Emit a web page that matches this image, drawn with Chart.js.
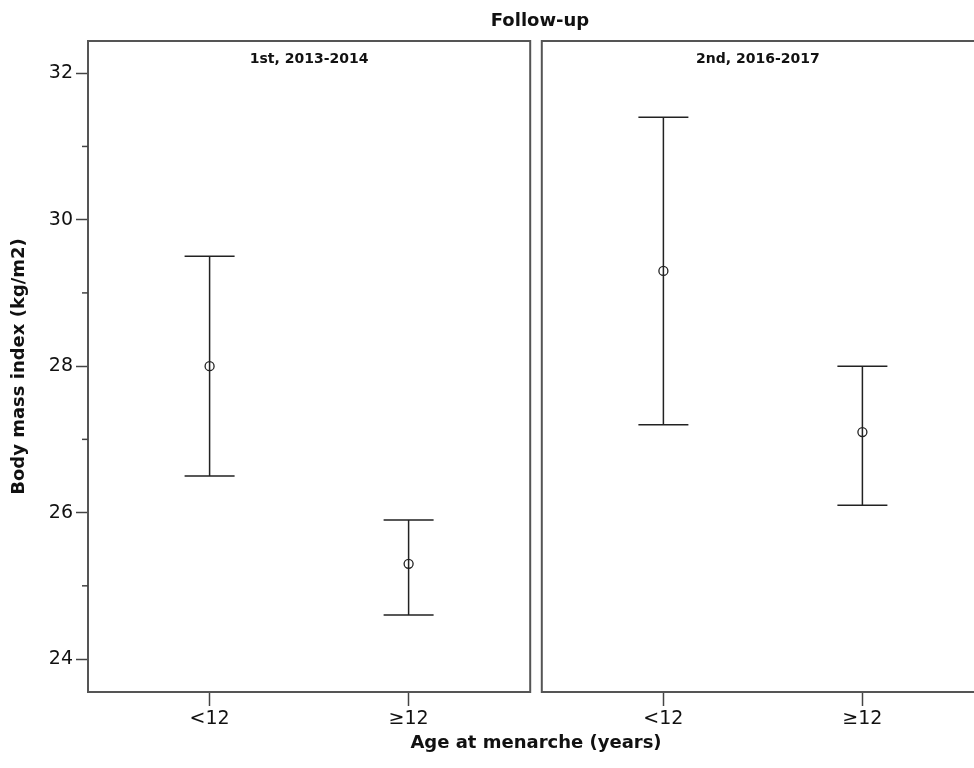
<!DOCTYPE html>
<html>
<head>
    <meta charset="utf-8" />
    <title>Body mass index by age at menarche</title>
    <style>
        html, body { margin: 0; padding: 0; width: 974px; height: 768px; overflow: hidden; background: #fff; }
        .wrap { position: absolute; top: 0; height: 768px; }
        .lbl { position: absolute; font-family: "DejaVu Sans", sans-serif; font-weight: bold; font-size: 18px; color: #111; white-space: nowrap; transform: translateX(-50%); }
    </style>
</head>
<body>
    <div class="wrap" style="left:0;width:536px"><canvas id="left"></canvas></div>
    <div class="wrap" style="left:536px;width:460px"><canvas id="right"></canvas></div>
    <div class="lbl" style="left:540px;top:9px">Follow-up</div>
    <div class="lbl" style="left:536px;top:731px">Age at menarche (years)</div>
    <script src="https://cdn.jsdelivr.net/npm/chart.js@4.4.1/dist/chart.umd.min.js"></script>
    <script>
        // categories and panel names
        var categories = ['<12', '\u226512'];
        var panelTitles = ['1st, 2013-2014', '2nd, 2016-2017'];
        var yTicks = [24, 26, 28, 30, 32];
        var yMinorTicks = [25, 27, 29, 31];

        // means and 95% CI, first follow-up
        var mean1 = [28.0, 25.3];
        var lower1 = [26.5, 24.6];
        var upper1 = [29.5, 25.9];

        // second follow-up
        var mean2 = [29.3, 27.1];
        var lower2 = [27.2, 26.1];
        var upper2 = [31.4, 28.0];

        var ink = '#222';
        var font = '"DejaVu Sans", sans-serif';

        // error bars + panel frame + panel title
        var panelPlugin = {
            id: 'panel',
            beforeDatasetsDraw: function (chart, args, opts) {
                var c = chart.ctx, xs = chart.scales.x, ys = chart.scales.y;
                c.save();
                c.strokeStyle = ink;
                c.lineWidth = 1.5;
                for (var i = 0; i < opts.lower.length; i++) {
                    var x = xs.getPixelForValue(i);
                    var yl = ys.getPixelForValue(opts.lower[i]);
                    var yu = ys.getPixelForValue(opts.upper[i]);
                    c.beginPath();
                    c.moveTo(x, yl); c.lineTo(x, yu);
                    c.moveTo(x - 25, yl); c.lineTo(x + 25, yl);
                    c.moveTo(x - 25, yu); c.lineTo(x + 25, yu);
                    c.stroke();
                }
                c.restore();
            },
            afterDraw: function (chart, args, opts) {
                var c = chart.ctx, a = chart.chartArea, ys = chart.scales.y;
                c.save();
                c.strokeStyle = '#555';
                c.lineWidth = 2;
                c.strokeRect(a.left, a.top, a.right - a.left, a.bottom - a.top);
                if (opts.minor) {
                    c.strokeStyle = '#444';
                    c.lineWidth = 1.5;
                    yMinorTicks.forEach(function (v) {
                        var y = ys.getPixelForValue(v);
                        c.beginPath();
                        c.moveTo(a.left - 6, y); c.lineTo(a.left, y);
                        c.stroke();
                    });
                }
                c.fillStyle = '#111';
                c.font = 'bold 14px ' + font;
                c.textAlign = 'center';
                c.textBaseline = 'middle';
                var right = Math.min(a.right, opts.visibleRight);
                c.fillText(opts.title, (a.left + right) / 2, 59);
                c.restore();
            }
        };

        function makeChart(id, mean, lower, upper, title, showY, padding, visibleRight) {
            var points = mean.map(function (m, i) { return { x: i, y: m }; });
            return new Chart(document.getElementById(id), {
                type: 'scatter',
                data: {
                    datasets: [{
                        data: points,
                        pointRadius: 4.5,
                        pointBorderWidth: 1.3,
                        pointBorderColor: ink,
                        pointBackgroundColor: 'rgba(0,0,0,0)'
                    }]
                },
                options: {
                    responsive: true,
                    maintainAspectRatio: false,
                    animation: false,
                    layout: { padding: padding },
                    plugins: {
                        legend: { display: false },
                        tooltip: { enabled: false },
                        panel: { lower: lower, upper: upper, title: title, minor: showY, visibleRight: visibleRight }
                    },
                    scales: {
                        x: {
                            type: 'linear',
                            min: -0.611,
                            max: 1.611,
                            afterBuildTicks: function (s) { s.ticks = categories.map(function (c, i) { return { value: i }; }); },
                            afterFit: function (s) { s.height = 76; },
                            border: { display: false },
                            grid: { drawOnChartArea: false, tickLength: 14, tickWidth: 1.5, tickColor: '#444' },
                            ticks: {
                                color: '#111',
                                font: { family: font, size: 19 },
                                padding: 2,
                                maxRotation: 0,
                                callback: function (v) { return categories[v]; }
                            }
                        },
                        y: {
                            display: showY,
                            min: 23.55,
                            max: 32.44,
                            afterBuildTicks: function (s) { s.ticks = yTicks.map(function (v) { return { value: v }; }); },
                            afterFit: function (s) { s.width = showY ? 88 : 0; },
                            border: { display: false },
                            grid: { drawOnChartArea: false, tickLength: 12, tickWidth: 1.5, tickColor: '#444' },
                            ticks: { color: '#111', font: { family: font, size: 19 }, padding: 3 },
                            title: {
                                display: true,
                                text: 'Body mass index (kg/m2)',
                                color: '#111',
                                font: { family: font, size: 18, weight: 'bold' },
                                padding: { top: 9, bottom: 0 }
                            }
                        }
                    }
                },
                plugins: [panelPlugin]
            });
        }

        makeChart('left', mean1, lower1, upper1, panelTitles[0], true, { top: 41, right: 5, left: 0, bottom: 0 }, 9999);
        makeChart('right', mean2, lower2, upper2, panelTitles[1], false, { top: 41, right: 12, left: 5, bottom: 0 }, 974 - 536);
    </script>
</body>
</html>
